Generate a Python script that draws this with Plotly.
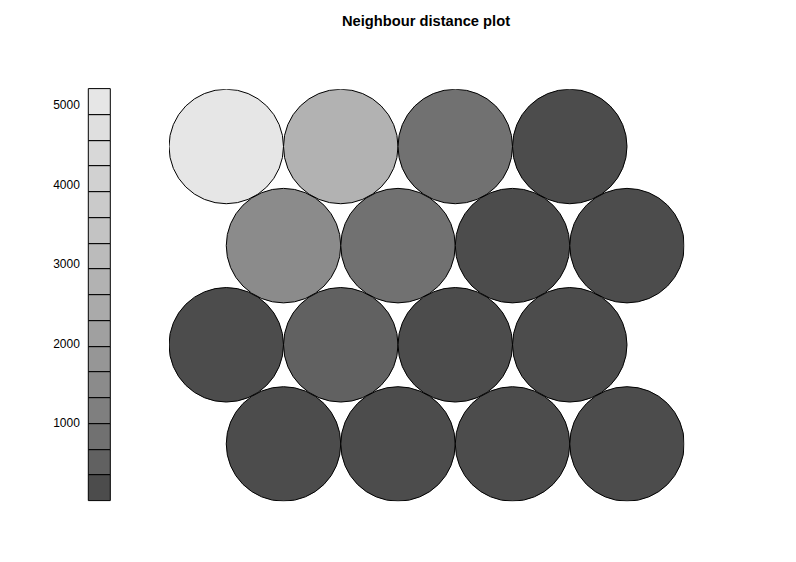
import plotly.graph_objects as go

# ---- data -------------------------------------------------------------
# neighbour distance per SOM unit, listed row by row from the top row
row_top = [5200, 2780, 830, 300]
row_2 = [1480, 800, 150, 60]
row_3 = [200, 500, 120, 250]
row_bottom = [20, 90, 180, 40]
unit_values = row_top + row_2 + row_3 + row_bottom
legend_ticks = [1000, 2000, 3000, 4000, 5000]
title_text = "Neighbour distance plot"

n_cols = 4
n_rows = 4
ncolors = 16

# ---- grid coordinates (hexagonal) --------------------------------------
ystep = 3 ** 0.5 / 2
xs, ys = [], []
for r in range(n_rows):
    shift = 0.5 if r % 2 == 1 else 0.0
    for c in range(n_cols):
        xs.append(1 + c + shift)
        ys.append((n_rows - 1 - r) * ystep)

# ---- palette: R gray.colors(n) ------------------------------------------
def gray_colors(n, start=0.3, end=0.9, gamma=2.2):
    a, b = start ** gamma, end ** gamma
    out = []
    for i in range(n):
        v = (a + (b - a) * i / (n - 1)) ** (1 / gamma)
        g = int(round(v * 255))
        out.append(f"rgb({g},{g},{g})")
    return out

pal = gray_colors(ncolors)
colorscale = []
for i, col in enumerate(pal):
    colorscale.append([i / ncolors, col])
    colorscale.append([(i + 1) / ncolors, col])

zmin, zmax = min(unit_values), max(unit_values)
bw = (zmax - zmin) / ncolors
breaks = [zmin + i * bw for i in range(ncolors)]
mids = [b + bw / 2 for b in breaks]

unit_px = 114.5
W, H = 796, 562
x_left_px = 169.0
xr = [0.5, 5.0]
x_dom = [x_left_px / W, (x_left_px + (xr[1] - xr[0]) * unit_px) / W]
yr = [-0.5, (n_rows - 1) * ystep + 0.5]
y_bot_px = 501.2
y_top_px = y_bot_px - (yr[1] - yr[0]) * unit_px
y_dom = [(H - y_bot_px) / H, (H - y_top_px) / H]

# legend box: 22 px wide bar, axis padded so the outline is not clipped
bar_px = 22.0
pad = 0.1
leg_left = 89.0 - pad * bar_px
leg_right = 111.0 + pad * bar_px

# y2 padded slightly so top/bottom outlines are not clipped
ypad = (zmax - zmin) * 0.01
ypad_px = ypad / (zmax - zmin) * (y_bot_px - y_top_px)
y2_dom = [(H - y_bot_px - ypad_px) / H, (H - y_top_px + ypad_px) / H]

fig = go.Figure()
fig.add_trace(go.Scatter(
    x=xs, y=ys, mode="markers",
    marker=dict(size=unit_px, color=unit_values, colorscale=colorscale,
                cmin=zmin, cmax=zmax, line=dict(color="black", width=1),
                opacity=1),
    hoverinfo="skip", showlegend=False, xaxis="x", yaxis="y",
))
fig.add_trace(go.Bar(
    x=[0] * ncolors, y=[bw] * ncolors, base=breaks, width=1,
    marker=dict(color=mids, colorscale=colorscale, cmin=zmin, cmax=zmax,
                line=dict(color="black", width=1)),
    hoverinfo="skip", showlegend=False, xaxis="x2", yaxis="y2",
))

fig.update_layout(
    width=W, height=H, autosize=False,
    margin=dict(l=0, r=0, t=0, b=0),
    paper_bgcolor="white", plot_bgcolor="rgba(0,0,0,0)",
    font=dict(family="Liberation Sans, Arial, sans-serif", color="black", size=12),
    title=dict(text="<b>" + title_text + "</b>", x=426 / W, xanchor="center",
               y=1 - 21 / H, yanchor="middle", yref="container",
               font=dict(size=14.7, color="black")),
    xaxis=dict(domain=x_dom, range=xr, visible=False, fixedrange=True),
    yaxis=dict(domain=y_dom, range=yr, visible=False, fixedrange=True),
    xaxis2=dict(domain=[leg_left / W, leg_right / W],
                range=[-0.5 - pad, 0.5 + pad], visible=False, anchor="y2"),
    yaxis2=dict(domain=y2_dom, range=[zmin - ypad, zmax + ypad], anchor="x2",
                side="left", tickvals=legend_ticks, ticks="outside", ticklen=3.5,
                tickcolor="rgba(0,0,0,0)", showgrid=False, zeroline=False,
                showline=False, tickfont=dict(size=12, color="black")),
    bargap=0,
)

fig.write_html("out.html")
